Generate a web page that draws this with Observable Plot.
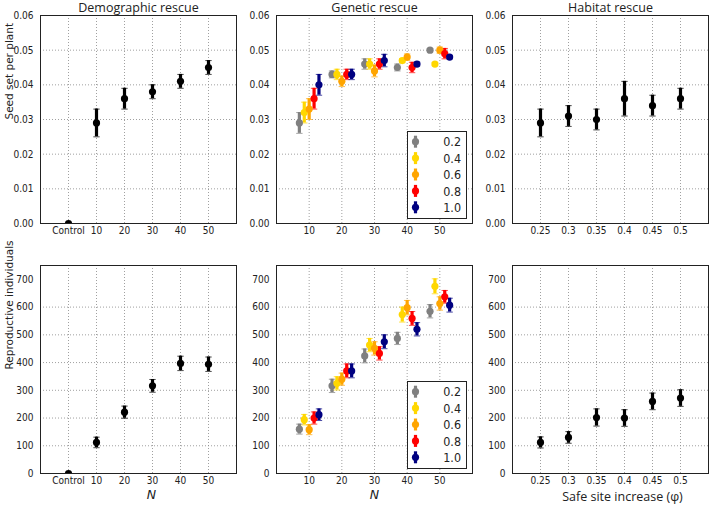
<!DOCTYPE html>
<html>
<head>
<meta charset="utf-8">
<script src="https://cdn.jsdelivr.net/npm/d3@7"></script>
<script src="https://cdn.jsdelivr.net/npm/@observablehq/plot@0.6"></script>
<style>
  html, body { margin: 0; padding: 0; background: #fff; }
  #chart { position: relative; width: 709px; height: 506px; overflow: hidden; background: #fff; }
</style>
</head>
<body>
<div id="chart"></div>
<script>
// ---------------- DATA ----------------
const panelTitles = ["Demographic rescue", "Genetic rescue", "Habitat rescue"];
const yLabels = ["Seed set per plant", "Reproductive individuals"];
const xLabels = ["N", "N", "Safe site increase (\u03c6)"];

const seedTicks = [0, 0.01, 0.02, 0.03, 0.04, 0.05, 0.06];
const reproTicks = [0, 100, 200, 300, 400, 500, 600, 700];

// Demographic rescue
const demoCats = ["Control", "10", "20", "30", "40", "50"];
const demoSeed = [0, 0.029, 0.036, 0.038, 0.041, 0.045];
const demoSeedErr = [0, 0.004, 0.003, 0.002, 0.002, 0.002];
const demoRepro = [0, 112, 221, 316, 397, 394];
const demoReproErr = [0, 19, 22, 23, 26, 26];

// Genetic rescue (rows = levels, cols = N)
const genN = [10, 20, 30, 40, 50];
const genLevels = ["0.2", "0.4", "0.6", "0.8", "1.0"];
const genOffsets = [-3, -1.5, 0, 1.5, 3];
const genColors = ["#808080", "#FFD700", "#FFA500", "#FF0000", "#000080"];
const genSeed = [
  [0.029, 0.043, 0.046, 0.045, 0.050],
  [0.032, 0.043, 0.046, 0.047, 0.046],
  [0.033, 0.041, 0.044, 0.048, 0.050],
  [0.036, 0.043, 0.046, 0.045, 0.049],
  [0.040, 0.043, 0.047, 0.046, 0.048]
];
const genSeedErr = [
  [0.003, 0.001, 0.0015, 0.001, 0.0005],
  [0.003, 0.0015, 0.0015, 0.0006, 0.0005],
  [0.003, 0.0015, 0.0017, 0.0009, 0.0009],
  [0.003, 0.0015, 0.0015, 0.0015, 0.0015],
  [0.003, 0.0015, 0.0018, 0.0006, 0.0005]
];
const genRepro = [
  [160, 316, 424, 487, 585],
  [194, 325, 463, 573, 675],
  [158, 340, 451, 598, 613],
  [200, 370, 433, 559, 637],
  [212, 370, 475, 520, 607]
];
const genReproErr = [
  [18, 24, 25, 22, 24],
  [19, 24, 24, 27, 27],
  [18, 22, 24, 26, 24],
  [22, 25, 24, 25, 23],
  [21, 25, 25, 24, 25]
];
const genXTicks = [10, 20, 30, 40, 50];

// Habitat rescue
const habX = [0.25, 0.3, 0.35, 0.4, 0.45, 0.5];
const habSeed = [0.029, 0.031, 0.030, 0.036, 0.034, 0.036];
const habSeedErr = [0.004, 0.003, 0.003, 0.005, 0.003, 0.003];
const habRepro = [112, 130, 202, 200, 260, 272];
const habReproErr = [20, 21, 31, 30, 30, 30];

// ---------------- LAYOUT ----------------
const FW = 196, FH = 208;
const colX = [40, 276, 512], rowY = [15, 265];
const M = {top: 15, right: 4, bottom: 35, left: 40};
const chart = document.getElementById("chart");
const tickFont = "DejaVu Sans";
const titleFont = "Open Sans";
const squeeze = 0.86;

const hline = {draw(ctx, size) { const w = Math.sqrt(size / Math.PI); ctx.moveTo(-w, 0); ctx.lineTo(w, 0); }};

function errMarks(data, {x, stroke}) {
  return [
    Plot.ruleX(data, {x, y1: d => d.v - d.e, y2: d => d.v + d.e, stroke, strokeWidth: 3.2, clip: true}),
    Plot.dot(data, {x, y: d => d.v - d.e, symbol: hline, r: 3.2, stroke, strokeWidth: 1, strokeOpacity: 0.7, fill: "none", clip: true}),
    Plot.dot(data, {x, y: d => d.v + d.e, symbol: hline, r: 3.2, stroke, strokeWidth: 1, strokeOpacity: 0.7, fill: "none", clip: true}),
    Plot.dot(data, {x, y: "v", r: 3.6, fill: stroke, stroke: "none", clip: true})
  ];
}

function panel(col, row, xOpts, xAxisOpts, dataMarks) {
  const isTop = row === 0;
  const yTicks = isTop ? seedTicks : reproTicks;
  const marks = [
    Plot.gridY({ticks: yTicks.slice(1, -1), stroke: "#888", strokeOpacity: 1, strokeDasharray: "1,2", strokeWidth: 0.8}),
    xAxisOpts.grid,
    Plot.axisY({ticks: yTicks, tickFormat: isTop ? d3.format(".2f") : d3.format("d"), tickSize: 0, tickPadding: 7,
      fontSize: 10.5, label: null}),
    Plot.axisX({ticks: xAxisOpts.ticks, tickFormat: xAxisOpts.tickFormat, tickSize: 0, tickPadding: 3, fontSize: 10.5, label: null}),
    ...dataMarks,
    Plot.frame({stroke: "#222", strokeWidth: 1})
  ];
  if (col === 0) {
    marks.push(Plot.text([yLabels[row]], {text: d => d, frameAnchor: "left", rotate: -90, dx: -31,
      lineAnchor: "middle", fontFamily: tickFont, fontSize: 10.5, fill: "#222"}));
  }
  if (isTop) {
    marks.push(Plot.text([panelTitles[col]], {text: d => d, frameAnchor: "top", lineAnchor: "bottom", dy: -4,
      fontFamily: titleFont, fontSize: 12.5, fill: "#222"}));
  } else {
    const lbl = xLabels[col];
    marks.push(Plot.text([lbl], {text: d => d, frameAnchor: "bottom", lineAnchor: "top", dy: col === 2 ? 18.5 : 17,
      dx: col === 0 ? 13 : (col === 2 ? 12 : 0),
      fontFamily: col === 2 ? titleFont : tickFont, fontStyle: col === 2 ? "normal" : "italic",
      fontSize: 12.5, fill: "#222"}));
  }
  const svg = Plot.plot({
    width: M.left + FW + M.right,
    height: M.top + FH + M.bottom,
    marginTop: M.top, marginRight: M.right, marginBottom: M.bottom, marginLeft: M.left,
    style: {fontFamily: tickFont, fontSize: "10.5px", background: "transparent", overflow: "visible", color: "#222"},
    x: xOpts,
    y: {domain: isTop ? [0, 0.06] : [0, 750]},
    color: {domain: genLevels, range: genColors},
    marks
  });
  svg.style.position = "absolute";
  svg.style.left = (colX[col] - M.left) + "px";
  svg.style.top = (rowY[row] - M.top) + "px";
  svg.querySelectorAll('g[aria-label$="tick label"] text').forEach(t => {
    t.setAttribute("transform", (t.getAttribute("transform") || "") + ` scale(${squeeze},1)`);
  });
  chart.appendChild(svg);
}

function demoPanel(row) {
  const vals = row === 0 ? demoSeed : demoRepro;
  const errs = row === 0 ? demoSeedErr : demoReproErr;
  const data = demoCats.map((c, i) => ({x: c, v: vals[i], e: errs[i]}));
  panel(0, row, {type: "point", domain: demoCats, padding: 1},
    {ticks: demoCats, tickFormat: d => d,
     grid: Plot.gridX({ticks: demoCats, stroke: "#888", strokeOpacity: 1, strokeDasharray: "1,2", strokeWidth: 0.8})},
    errMarks(data, {x: "x", stroke: "#000"}));
}

function genPanel(row) {
  const vals = row === 0 ? genSeed : genRepro;
  const errs = row === 0 ? genSeedErr : genReproErr;
  const data = genLevels.flatMap((lvl, i) => genN.map((n, j) => ({level: lvl, x: n + genOffsets[i], v: vals[i][j], e: errs[i][j]})));
  panel(1, row, {domain: [0, 60]},
    {ticks: genXTicks, tickFormat: d => String(d),
     grid: Plot.gridX({ticks: genXTicks, stroke: "#888", strokeOpacity: 1, strokeDasharray: "1,2", strokeWidth: 0.8})},
    errMarks(data, {x: "x", stroke: "level"}));
}

function habPanel(row) {
  const vals = row === 0 ? habSeed : habRepro;
  const errs = row === 0 ? habSeedErr : habReproErr;
  const data = habX.map((x, i) => ({x, v: vals[i], e: errs[i]}));
  panel(2, row, {domain: [0.2, 0.55]},
    {ticks: habX, tickFormat: d => String(d),
     grid: Plot.gridX({ticks: habX, stroke: "#888", strokeOpacity: 1, strokeDasharray: "1,2", strokeWidth: 0.8})},
    errMarks(data, {x: "x", stroke: "#000"}));
}

function legend(row) {
  const W = 60, H = 88;
  const left = colX[1] + FW - 5 - W;
  const top = rowY[row] + FH - 4 - H;
  const svg = d3.create("svg").attr("width", W).attr("height", H)
    .style("position", "absolute").style("left", left + "px").style("top", top + "px");
  svg.append("rect").attr("x", 0.5).attr("y", 0.5).attr("width", W - 1).attr("height", H - 1)
    .attr("fill", "#fff").attr("stroke", "#222");
  genLevels.forEach((lvl, i) => {
    const cy = 10.7 + i * 16.4;
    const g = svg.append("g");
    g.append("line").attr("x1", 8.5).attr("x2", 8.5).attr("y1", cy - 6).attr("y2", cy + 6)
      .attr("stroke", genColors[i]).attr("stroke-width", 3.2);
    g.append("circle").attr("cx", 8.5).attr("cy", cy).attr("r", 3.6).attr("fill", genColors[i]);
    g.append("text").attr("transform", `translate(54,${cy + 4.6}) scale(${squeeze},1)`)
      .attr("text-anchor", "end").attr("font-family", tickFont).attr("font-size", 13).attr("fill", "#222")
      .text(lvl);
  });
  chart.appendChild(svg.node());
}

demoPanel(0); genPanel(0); habPanel(0);
demoPanel(1); genPanel(1); habPanel(1);
legend(0); legend(1);
</script>
</body>
</html>
